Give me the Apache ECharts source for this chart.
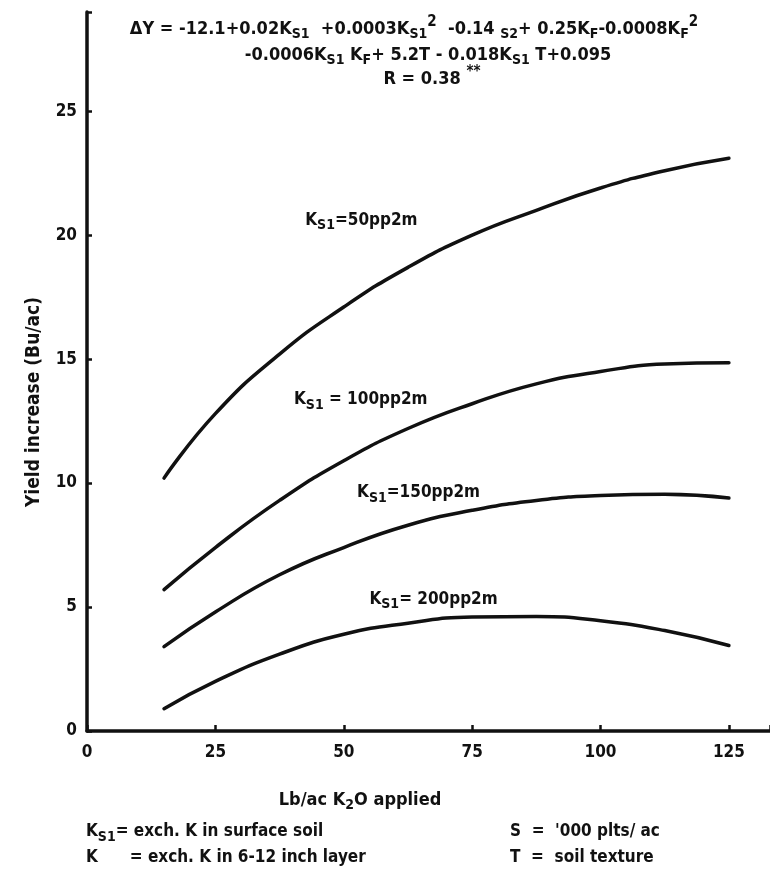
<!DOCTYPE html>
<html>
<head>
<meta charset="utf-8">
<style>
  html, body { margin: 0; padding: 0; background: #fff; }
  #chart { width: 770px; height: 875px; }
</style>
<script src="https://cdn.jsdelivr.net/npm/echarts@6/dist/echarts.min.js"></script>
</head>
<body>
<div id="chart"></div>
<script>
// K2O rate (lb/ac) at which each response curve is read
const k2oRates = [15, 25, 37.5, 50, 62.5, 75, 87.5, 100, 112.5, 125];

// Yield increase (Bu/ac) for each surface-soil exchangeable K level
const yieldKs50  = [10.2, 12.8, 15.2, 17.1, 18.7, 20.0, 21.0, 21.9, 22.6, 23.1];
const yieldKs100 = [5.7, 7.4, 9.3, 10.9, 12.2, 13.2, 14.0, 14.5, 14.8, 14.85];
const yieldKs150 = [3.4, 4.8, 6.3, 7.4, 8.3, 8.9, 9.3, 9.5, 9.55, 9.4];
const yieldKs200 = [0.9, 2.0, 3.1, 3.9, 4.35, 4.6, 4.62, 4.45, 4.05, 3.45];

const curveLevels = ['50', '100', '150', '200'];
const xTicks = [0, 25, 50, 75, 100, 125];
const yTicks = [0, 5, 10, 15, 20, 25];

const INK = '#111';
const FONT = 'DejaVu Sans Condensed';

function makeRich(size) {
  return {
    a: { fontFamily: FONT, fontWeight: 'bold', fontSize: size, color: INK },
    s: { fontFamily: FONT, fontWeight: 'bold', fontSize: Math.round(size * 0.8), color: INK, padding: [Math.round(size * 0.6), 0, 0, 0] },
    p: { fontFamily: FONT, fontWeight: 'bold', fontSize: Math.round(size * 0.85), color: INK, padding: [0, 0, Math.round(size * 0.7), 0] }
  };
}

function pairs(ys) { return k2oRates.map((x, i) => [x, ys[i]]); }

const chart = echarts.init(document.getElementById('chart'));

const lineSeries = [yieldKs50, yieldKs100, yieldKs150, yieldKs200].map((ys, i) => ({
  name: 'Ks1=' + curveLevels[i],
  type: 'line',
  data: pairs(ys),
  smooth: 0.5,
  symbol: 'none',
  lineStyle: { color: INK, width: 3.5, cap: 'round' },
  z: 3
}));

chart.setOption({
  animation: false,
  backgroundColor: '#fff',
  grid: { left: 87, right: 0, top: 12, bottom: 144, containLabel: false },
  xAxis: {
    type: 'value',
    min: 0, max: 133, interval: 25,
    axisLine: { show: true, lineStyle: { color: INK, width: 3.5, cap: 'round' } },
    axisTick: { show: true, inside: true, length: 6, lineStyle: { color: INK, width: 2.5 } },
    axisLabel: {
      color: INK, fontFamily: FONT, fontWeight: 'bold', fontSize: 17, margin: 13,
      customValues: xTicks,
      formatter: v => String(v)
    },
    splitLine: { show: false }
  },
  yAxis: {
    type: 'value',
    min: 0, max: 29, interval: 5,
    axisLine: { show: true, lineStyle: { color: INK, width: 3.5, cap: 'round' } },
    axisTick: { show: true, inside: true, length: 5, lineStyle: { color: INK, width: 2.5 } },
    axisLabel: {
      color: INK, fontFamily: FONT, fontWeight: 'bold', fontSize: 17, margin: 10,
      customValues: yTicks,
      formatter: v => String(v)
    },
    splitLine: { show: false }
  },
  series: lineSeries
});

// Text blocks: equation, curve labels, axis names and footnotes
function px(x, y) { return chart.convertToPixel({ gridIndex: 0 }, [x, y]); }

const texts = [];
function addText(x, y, text, align, size) {
  texts.push({
    type: 'text', x: x, y: y, z: 10,
    style: { text: text, rich: makeRich(size), align: align || 'left', verticalAlign: 'middle',
             fontFamily: FONT, fontWeight: 'bold', fontSize: size, fill: INK }
  });
}

addText(414, 29, '{a|ΔY = -12.1+0.02K}{s|S1}{a|  +0.0003K}{s|S1}{p|2}{a|  -0.14 }{s|S2}{a|+ 0.25K}{s|F}{a|-0.0008K}{s|F}{p|2}', 'center', 18);
addText(428, 55, '{a|-0.0006K}{s|S1}{a| K}{s|F}{a|+ 5.2T - 0.018K}{s|S1}{a| T+0.095}', 'center', 18);
addText(432, 79, '{a|R = 0.38 }{p|**}', 'center', 18);

const curveLabelPos = [[42.5, 20.6], [40.3, 13.35], [52.6, 9.6], [55, 5.3]];
const curveLabelEq = ['=', ' = ', '=', '= '];
curveLabelPos.forEach((c, i) => {
  const p = px(c[0], c[1]);
  addText(p[0], p[1], '{a|K}{s|S1}{a|' + curveLabelEq[i] + curveLevels[i] + 'pp2m}', 'left', 17);
});

// y axis name
texts.push({
  type: 'text', x: 34, y: 402, rotation: Math.PI / 2, z: 10,
  style: { text: 'Yield increase (Bu/ac)', align: 'center', verticalAlign: 'middle',
           fontFamily: FONT, fontWeight: 'bold', fontSize: 19, fill: INK }
});

addText(360, 800, '{a|Lb/ac K}{s|2}{a|O applied}', 'center', 18);
addText(86, 832, '{a|K}{s|S1}{a|= exch. K in surface soil}', 'left', 17);
addText(86, 858, '{a|K      = exch. K in 6-12 inch layer}', 'left', 17);
addText(510, 832, "{a|S  =  '000 plts/ ac}", 'left', 17);
addText(510, 858, '{a|T  =  soil texture}', 'left', 17);

chart.setOption({ graphic: texts });
</script>
</body>
</html>
